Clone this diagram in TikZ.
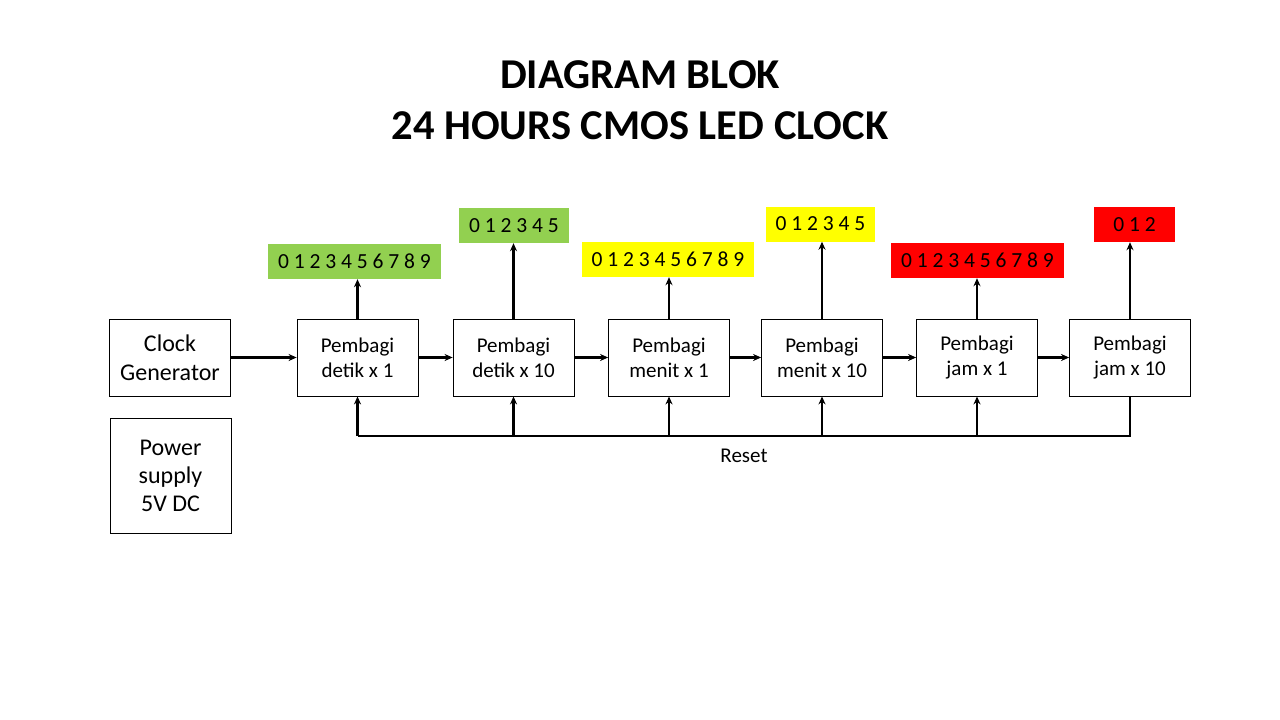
\documentclass[tikz,border=0pt]{standalone}
\usepackage{fontspec}
\setmainfont{Carlito}
\usetikzlibrary{arrows.meta,positioning}
\definecolor{OutGreen}{RGB}{146,208,80}
\definecolor{OutYellow}{RGB}{255,255,0}
\definecolor{OutRed}{RGB}{255,0,0}

\begin{document}
\begin{tikzpicture}[x=1pt,y=-1pt,
    block/.style={draw, line width=0.8pt, minimum width=121pt, minimum height=77pt,
      inner sep=0pt, align=center, font=\fontsize{21}{25}\selectfont},
    digits/.style={minimum height=35pt, inner sep=0pt, font=\fontsize{21.5}{24}\selectfont},
    wire/.style={line width=2.7pt},
    flow/.style={wire, -{Stealth[length=8pt,width=7pt]}}]
  \useasboundingbox[fill=white] (0,0) rectangle (1280,720);

  % title
  \node[font=\fontsize{42.5}{46}\bfseries\selectfont] (title1) at (640,75) {DIAGRAM BLOK};
  \node[font=\fontsize{42.5}{46}\bfseries\selectfont] (title2) at (640,126) {24 HOURS CMOS LED CLOCK};

  % left blocks
  \node[block, font=\fontsize{24}{29}\selectfont] (clk) at (170,357.5) {Clock\\Generator};
  \node[block, minimum height=115pt, font=\fontsize{24}{28}\selectfont] (psu) at (170.5,475.5) {Power\\supply\\5V DC};

  % dividers
  \node[block] (div1) at (357.5,357.5) {Pembagi\\detik x 1};
  \node[block] (div2) at (513.5,357.5) {Pembagi\\detik x 10};
  \node[block] (div3) at (669,357.5) {Pembagi\\menit x 1};
  \node[block] (div4) at (822,357.5) {Pembagi\\menit x 10};
  \node[block] (div5) at (977,357.5) {Pembagi\\jam x 1};
  \node[block] (div6) at (1130,357.5) {Pembagi\\jam x 10};

  % outputs
  \node[digits, fill=OutGreen, minimum width=173pt] (out1) at (354.5,261.5) {0 1 2 3 4 5 6 7 8 9};
  \node[digits, fill=OutGreen, minimum width=110pt] (out2) at (514,225.5) {0 1 2 3 4 5};
  \node[digits, fill=OutYellow, minimum width=172pt] (out3) at (668,259.5) {0 1 2 3 4 5 6 7 8 9};
  \node[digits, fill=OutYellow, minimum width=109pt] (out4) at (820.5,224) {0 1 2 3 4 5};
  \node[digits, fill=OutRed, minimum width=173pt] (out5) at (977.5,260.5) {0 1 2 3 4 5 6 7 8 9};
  \node[digits, fill=OutRed, minimum width=81pt] (out6) at (1134.5,224.5) {0 1 2};

  % clock chain
  \draw[flow] (clk) -- (div1);
  \foreach \a/\b in {1/2,2/3,3/4,4/5,5/6}
    \draw[flow] (div\a) -- (div\b);

  % outputs up
  \foreach \i in {1,...,6}
    \draw[flow] (div\i.north) -- (div\i.north |- out\i.south);

  % reset bus
  \coordinate (rst) at (357.5,436);
  \draw[wire] (div6.south) |- (rst);
  \foreach \i in {1,...,5}
    \draw[flow] (div\i.south |- rst) -- (div\i.south);
  \node[font=\fontsize{21}{24}\selectfont] (rsttxt) at (744,456) {Reset};
\end{tikzpicture}
\end{document}
